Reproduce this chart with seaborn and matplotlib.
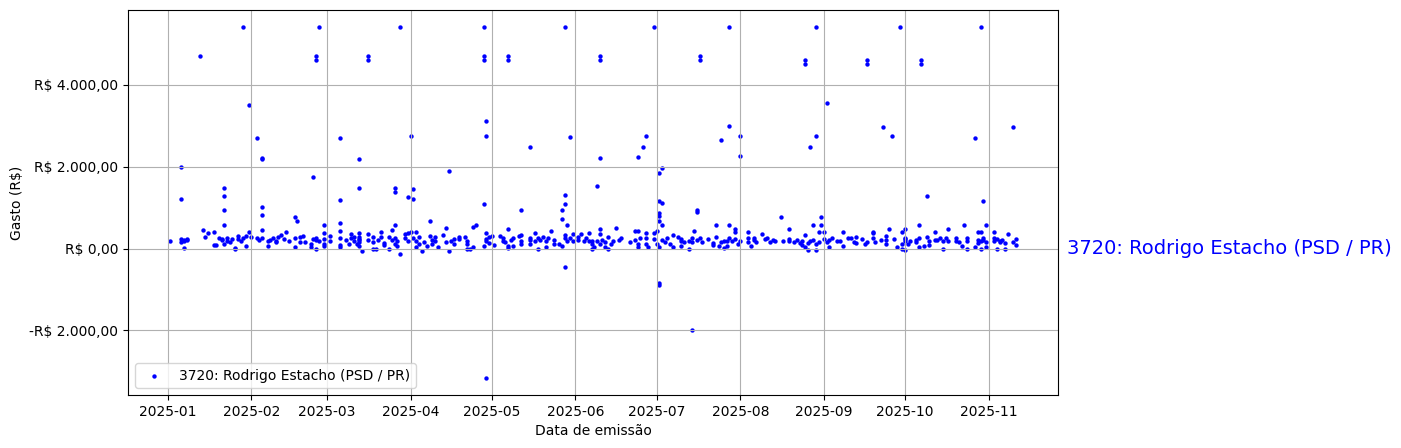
import matplotlib
matplotlib.use("Agg")
import matplotlib.pyplot as plt
import matplotlib.dates as mdates
import matplotlib.ticker as mticker
import seaborn as sns
import pandas as pd

LEGENDA = "3720: Rodrigo Estacho (PSD / PR)"

# dias do mês e valores (R$)
jan_dia = [2, 6, 6, 6, 6, 7, 7, 7, 8, 8, 13, 14, 15, 16, 18, 18, 19, 20, 21, 21, 22, 22, 22, 22, 22, 23, 23, 24, 25, 26, 26, 27, 27, 28, 29, 29, 30, 30, 31, 31]
jan_gasto = [195, 2000, 1200, 236, 154, 211, 179, 16, 236, 211, 4700, 455, 285, 382, 415, 90, 90, 260, 211, 236, 114, 1480, 1280, 930, 570, 195, 260, 154, 236, 10, 0, 317, 236, 195, 5400, 260, 317, 73, 3500, 398]

feb_dia = [1, 3, 3, 4, 5, 5, 5, 5, 5, 5, 7, 7, 8, 9, 10, 10, 11, 12, 13, 14, 15, 17, 17, 17, 18, 19, 19, 20, 21, 23, 23, 24, 24, 25, 25, 25, 25, 25, 26, 26, 28, 28, 28, 28, 28]
feb_gasto = [293, 2700, 260, 211, 455, 260, 1024, 821, 2220, 2180, 195, 73, 211, 260, 154, 195, 293, 341, 236, 398, 195, 780, 260, 33, 675, 293, 154, 317, 154, 114, 33, 1750, 236, 4700, 4600, 260, 211, -8, 5400, 179, 585, 374, 236, 114, 57]

mar_dia = [2, 2, 6, 6, 6, 6, 6, 6, 6, 8, 9, 10, 10, 11, 11, 12, 13, 13, 13, 13, 13, 13, 13, 13, 14, 16, 16, 16, 16, 18, 18, 18, 19, 20, 21, 21, 22, 22, 24, 24, 25, 25, 26, 26, 26, 26, 26, 27, 27, 28, 28, 30, 30, 31, 31, 31]
mar_gasto = [317, 179, 2700, 1190, 618, 439, 260, 98, 33, 211, 114, 260, 358, 195, 276, 114, 374, 293, 211, 1480, 2180, 154, 73, 236, -49, 358, 211, 4700, 4600, 154, -8, 276, -8, 211, 293, 398, 130, 98, -8, 276, 455, 211, 114, 585, 1480, 1370, 260, 195, 73, -130, 5400, 358, 260, 1270, 374, 195]

apr_dia = [1, 1, 2, 2, 2, 3, 3, 3, 4, 4, 5, 6, 7, 8, 8, 9, 9, 10, 10, 11, 13, 14, 14, 15, 15, 16, 17, 17, 19, 19, 21, 22, 22, 22, 23, 24, 24, 25, 28, 28, 28, 28, 28, 29, 29, 29, 29, 29, 29, 30, 30]
apr_gasto = [398, 2750, 1455, 1211, 260, 195, 398, 33, 293, 114, -49, 154, 73, 683, 317, 211, 114, 276, 179, 33, 341, 504, 154, -49, 1900, 195, 236, 114, 293, 236, 293, 195, 114, -8, -8, 49, 537, 569, 1100, 73, 5400, 4700, 4600, 374, 236, 179, 3120, 2750, -3150, 293, 130]

may_dia = [1, 2, 4, 5, 5, 6, 7, 7, 7, 7, 7, 8, 9, 9, 11, 12, 12, 12, 12, 15, 15, 15, 15, 17, 17, 18, 18, 19, 20, 21, 21, 22, 23, 24, 24, 26, 27, 27, 27, 28, 28, 28, 28, 28, 28, 29, 29, 30, 30, 31, 31]
may_gasto = [317, 98, 317, 260, 195, 154, 73, 16, 480, 4700, 4600, 211, 260, 73, 317, 195, 341, 930, 114, 211, 260, 114, 2480, 374, 195, 260, -8, 211, 276, 195, 33, 260, 439, 114, 211, 114, 73, 943, 724, 341, 1300, 1100, 260, -450, 5400, 585, 195, 260, 2720, 358, 195]

jun_dia = [2, 2, 3, 4, 5, 6, 6, 7, 7, 7, 8, 9, 9, 10, 10, 10, 10, 10, 10, 11, 12, 12, 13, 13, 14, 15, 16, 17, 18, 21, 23, 23, 24, 24, 24, 24, 25, 26, 27, 27, 27, 27, 28, 30, 30, 30]
jun_gasto = [293, 211, 358, 195, 260, 179, 374, -8, 195, 114, 33, 1520, 195, 2200, 114, 480, 358, 4700, 4600, 211, 33, 154, 293, -8, 114, 179, 504, 211, 260, 154, 439, 211, 114, 439, 2230, 33, 260, 2480, 2750, 374, 260, 114, 33, 5400, 374, 236]

jul_dia = [1, 1, 2, 2, 2, 2, 2, 2, 2, 2, 3, 3, 3, 3, 4, 5, 6, 7, 7, 9, 10, 10, 10, 11, 13, 13, 14, 14, 14, 15, 16, 16, 16, 17, 17, 17, 18, 20, 22, 22, 23, 23, 24, 25, 25, 26, 26, 27, 27, 28, 28, 28, 28, 29, 30, 30, 30, 31]
jul_gasto = [423, 114, -850, -900, 33, 1850, 1150, 862, 805, 683, 585, 1970, 1114, 211, 154, 260, 114, 33, 341, 293, 179, 73, 236, 154, 195, -8, 260, 154, -2000, 439, 211, 943, 902, 4700, 4600, 260, 154, 236, 130, 98, 293, 585, 73, 2650, 154, 16, 195, 179, 73, 585, 5400, 3000, 260, 195, 236, 480, 398, 114]

aug_dia = [1, 1, 1, 4, 4, 4, 5, 6, 6, 7, 9, 10, 11, 12, 13, 14, 16, 17, 19, 19, 19, 21, 22, 23, 24, 24, 25, 25, 25, 25, 26, 26, 27, 27, 28, 28, 29, 29, 29, 29, 30, 30, 31, 31]
aug_gasto = [2750, 2250, 195, 398, 260, 154, 73, 211, 260, 154, 358, 236, 260, 154, 211, 195, 760, 195, 480, 236, 179, 154, 211, 130, 98, 195, 341, 33, 4600, 4500, -33, 130, 2480, 195, 585, 211, -33, 114, 5400, 2750, 398, 154, 780, 585]

sep_dia = [1, 1, 2, 2, 3, 3, 4, 6, 7, 8, 8, 10, 11, 12, 13, 13, 15, 16, 17, 17, 17, 19, 19, 19, 20, 22, 23, 24, 24, 24, 25, 26, 27, 28, 29, 30, 30, 30]
sep_gasto = [398, 236, 3550, 154, 33, 211, 260, 179, 195, 73, 398, 260, 260, 154, 293, 130, 236, 114, 154, 4600, 4500, 398, 374, 260, 154, 211, 2970, 317, 211, 114, 480, 2750, 236, 33, 5400, 114, -8, 407]

oct_dia = [1, 1, 1, 1, 1, 2, 3, 5, 5, 6, 6, 6, 7, 7, 8, 9, 9, 10, 10, 12, 12, 13, 14, 15, 15, 16, 17, 17, 20, 20, 21, 22, 23, 24, 24, 24, 27, 27, 28, 28, 28, 29, 29, 29, 29, 30, 30, 30, 31, 31, 31]
oct_gasto = [260, 179, 480, -33, 236, 114, 195, 211, 154, 585, 33, 260, 4600, 4500, 73, 1280, 276, 98, 195, 211, 398, 211, 260, -8, 195, 260, 480, 195, 260, 179, 154, 73, 585, 260, 195, -8, 33, 2700, 211, 130, 398, -8, 398, 195, 5400, 260, 1150, 211, 585, 154, 33]

nov_dia = [3, 3, 3, 4, 4, 5, 5, 6, 7, 7, 8, 10, 10, 11, 11]
nov_gasto = [415, 260, 179, -8, 236, 195, 154, 211, 130, -8, 358, 154, 2970, 236, 98]

meses = [
    (1, jan_dia, jan_gasto), (2, feb_dia, feb_gasto), (3, mar_dia, mar_gasto),
    (4, apr_dia, apr_gasto), (5, may_dia, may_gasto), (6, jun_dia, jun_gasto),
    (7, jul_dia, jul_gasto), (8, aug_dia, aug_gasto), (9, sep_dia, sep_gasto),
    (10, oct_dia, oct_gasto), (11, nov_dia, nov_gasto),
]

linhas = []
for mes, dias, gastos in meses:
    for d, g in zip(dias, gastos):
        linhas.append((pd.Timestamp(2025, mes, d), g))
df = pd.DataFrame(linhas, columns=["data", "gasto"])


def brl(v, pos):
    s = f"{abs(v):,.2f}".replace(",", "X").replace(".", ",").replace("X", ".")
    return ("-" if v < 0 else "") + "R$ " + s


fig = plt.figure(figsize=(14.01, 4.48), dpi=100)
ax = fig.add_axes([0.0914, 0.1183, 0.6638, 0.8594])

sns.scatterplot(data=df, x="data", y="gasto", color="blue", s=10,
                linewidth=0, ax=ax, label=LEGENDA)

ax.xaxis.set_major_locator(mdates.MonthLocator())
ax.xaxis.set_major_formatter(mdates.DateFormatter("%Y-%m"))
ax.yaxis.set_major_locator(mticker.MultipleLocator(2000))
ax.yaxis.set_major_formatter(mticker.FuncFormatter(brl))

ax.set_xlabel("Data de emissão")
ax.set_ylabel("Gasto (R$)")
ax.grid(True)
ax.legend(loc="lower left")

# nome ao lado direito, na altura do zero
ax.text(1.01, 0, LEGENDA, transform=ax.get_yaxis_transform(),
        color="blue", fontsize=14, ha="left", va="center")

fig.savefig("out.png", dpi=100)
